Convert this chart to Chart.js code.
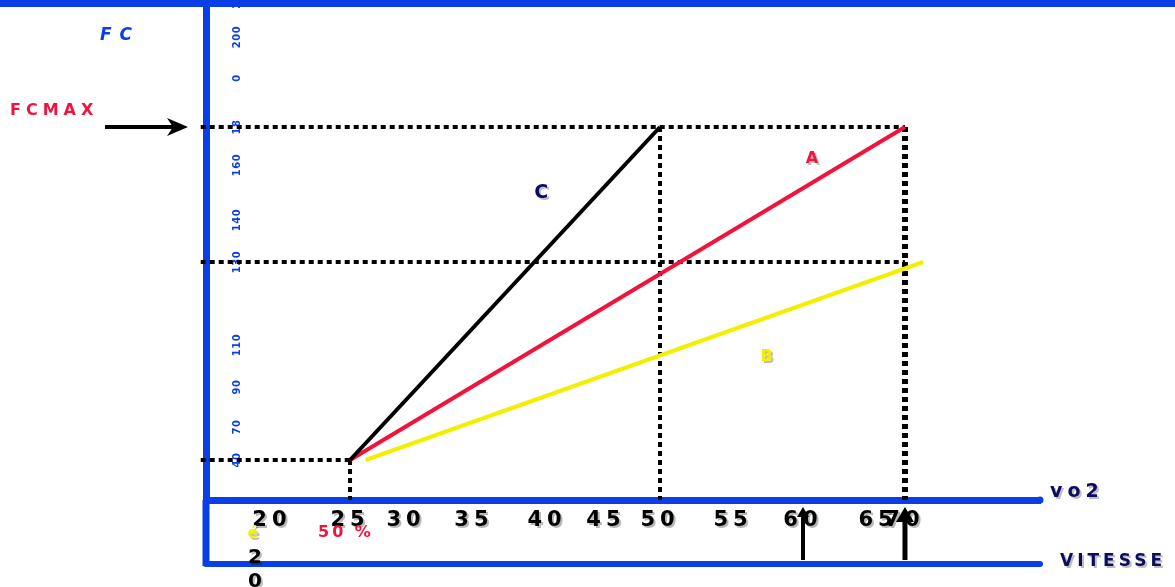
<!DOCTYPE html>
<html><head><meta charset="utf-8">
<script src="https://cdn.jsdelivr.net/npm/chart.js@4/dist/chart.umd.min.js"></script>
<style>html,body{margin:0;padding:0;background:#fff;overflow:hidden}canvas{display:block}</style>
</head><body>
<canvas id="c" width="1175" height="587"></canvas>
<script>
// ---------- data ----------
const xTickValues = [20, 25, 30, 35, 40, 45, 50, 55, 60, 65, 70];
const xTickLabels = ['20', '25', '30', '35', '40', '45', '50', '55', '60', '65', '70'];
const yTickValues = [0, 40, 70, 90, 110, 130, 140, 160, 180, 190, 200, 220];
const yTickLabels = ['0', '40', '70', '90', '110', '130', '140', '160', '18', '0', '200', '2'];

const seriesA_vo2 = [25, 70];   const seriesA_fc = [40, 180];
const seriesB_vo2 = [26.4, 72.7]; const seriesB_fc = [40, 130];
const seriesC_vo2 = [25, 50];   const seriesC_fc = [40, 180];

const fcMax = 180, fcMid = 130, fcStart = 40, fcZero = 0;
const vo2AxisStart = 14.6, vo2Start = 25, vo2C = 50, vo2A = 70;
const arrowVo2 = [60, 70];
const seriesNames = ['A', 'B', 'C'];
const labelPosVo2 = [60.6, 57.4, 39.6];
const labelPosFc = [164, 105, 150.5];

// ---------- styles ----------
const BLUE = '#0a3ee6', NAVY = '#0c0c60', RED = '#f0143c', YELLOW = '#f2f000';

// piecewise mapping of the hand-drawn axes (value -> fraction of axis length)
const scaleAnchors = {
  x: [[15, 0], [20, .0791], [25, .1727], [30, .2398], [35, .3213], [40, .4089], [45, .4796],
      [50, .5444], [55, .6319], [60, .7158], [65, .8058], [70, .8381], [90, 1]],
  y: [[0, 0], [40, .08], [70, .146], [90, .226], [110, .31], [130, .476], [140, .56],
      [160, .67], [180, .746], [190, .844], [200, .926], [220, .99]]
};
const labelStyles = {
  x: {spacing: '5px', shadow: 'rgba(0,0,0,0.28)'},
  y: {spacing: '0.5px'}
};

class PiecewiseScale extends Chart.LinearScale {
  static id = 'piecewise';
  _seg(list, key, v) {
    let i = 1;
    while (i < list.length - 1 && v > list[i][key]) i++;
    return [list[i - 1], list[i]];
  }
  getPixelForValue(value) {
    if (value === null || value === undefined || isNaN(value)) return NaN;
    const [a, b] = this._seg(scaleAnchors[this.id], 0, value);
    const f = a[1] + (value - a[0]) * (b[1] - a[1]) / (b[0] - a[0]);
    return this.getPixelForDecimal(f);
  }
  getValueForPixel(pixel) {
    const f = this.getDecimalForPixel(pixel);
    const [a, b] = this._seg(scaleAnchors[this.id], 1, f);
    return a[0] + (f - a[1]) * (b[0] - a[0]) / (b[1] - a[1]);
  }
  drawLabels(area) {
    const ctx = this.ctx, st = labelStyles[this.id] || {};
    ctx.save();
    if (st.spacing) ctx.letterSpacing = st.spacing;
    if (st.shadow) { ctx.shadowColor = st.shadow; ctx.shadowOffsetX = 2; ctx.shadowOffsetY = 2; ctx.shadowBlur = 0; }
    super.drawLabels(area);
    ctx.restore();
  }
}
Chart.register(PiecewiseScale);

const pts = (xs, ys) => xs.map((x, i) => ({x, y: ys[i]}));
const solid = (xs, ys, color) => ({data: pts(xs, ys), showLine: true, borderColor: color, borderWidth: 4,
  pointRadius: 0, fill: false, clip: false, tension: 0, borderCapStyle: 'butt'});
const dotted = (xs, ys, w) => ({data: pts(xs, ys), showLine: true, borderColor: '#000', borderWidth: w || 4,
  borderDash: [5, 4], pointRadius: 0, fill: false, clip: false, tension: 0});

function txt(ctx, s, x, y, font, color, spacing, align, shadow) {
  ctx.save();
  ctx.font = font; ctx.fillStyle = color; ctx.textAlign = align || 'left'; ctx.textBaseline = 'alphabetic';
  ctx.letterSpacing = (spacing || 0) + 'px';
  if (shadow) { ctx.shadowColor = shadow; ctx.shadowOffsetX = 2; ctx.shadowOffsetY = 2; }
  ctx.fillText(s, x, y);
  ctx.restore();
}

const extras = {
  id: 'extras',
  afterDraw(chart) {
    const {ctx, chartArea: a, scales: {x, y}} = chart;
    ctx.save();
    // top bar
    ctx.fillStyle = BLUE; ctx.fillRect(0, 0, chart.width, 7);
    // y axis extension + second (VITESSE) axis
    ctx.strokeStyle = BLUE; ctx.lineWidth = 7;
    ctx.beginPath(); ctx.moveTo(a.left, a.bottom); ctx.lineTo(a.left, a.bottom + 66); ctx.stroke();
    ctx.lineWidth = 6; ctx.lineCap = 'round';
    ctx.beginPath(); ctx.moveTo(a.left, a.bottom + 64); ctx.lineTo(a.right, a.bottom + 64); ctx.stroke();
    ctx.beginPath(); ctx.arc(a.right, a.bottom, 3.5, 0, Math.PI * 2); ctx.fillStyle = BLUE; ctx.fill();

    // FCMAX arrow
    const ym = y.getPixelForValue(fcMax);
    ctx.strokeStyle = '#000'; ctx.fillStyle = '#000'; ctx.lineCap = 'butt'; ctx.lineWidth = 4;
    ctx.beginPath(); ctx.moveTo(105, ym); ctx.lineTo(176, ym); ctx.stroke();
    ctx.beginPath(); ctx.moveTo(188, ym); ctx.lineTo(167, ym - 9); ctx.lineTo(173, ym); ctx.lineTo(167, ym + 9); ctx.closePath(); ctx.fill();

    // up arrows on VITESSE axis
    arrowVo2.forEach((v, i) => {
      const px = x.getPixelForValue(v);
      const hw = i === 0 ? 6 : 9, hh = i === 0 ? 10 : 15;
      ctx.lineWidth = i === 0 ? 4 : 5;
      ctx.beginPath(); ctx.moveTo(px, a.bottom + 60); ctx.lineTo(px, a.bottom + 14); ctx.stroke();
      ctx.beginPath(); ctx.moveTo(px, a.bottom + 7); ctx.lineTo(px - hw, a.bottom + 7 + hh); ctx.lineTo(px + hw, a.bottom + 7 + hh); ctx.closePath(); ctx.fill();
    });
    ctx.restore();

    const sh = 'rgba(0,0,0,0.25)';
    // series labels (anchored in data units)
    const cols = [RED, YELLOW, NAVY], sizes = [16, 16, 19];
    seriesNames.forEach((n, i) => {
      const px = x.getPixelForValue(labelPosVo2[i]), py = y.getPixelForValue(labelPosFc[i]);
      txt(ctx, n, px, py + sizes[i] * 0.365, `bold ${sizes[i]}px "DejaVu Sans"`, cols[i], 0, 'center', sh);
    });
    // axis titles and notes
    txt(ctx, 'FC', 100, 40, 'italic bold 17px "DejaVu Sans"', BLUE, 8, 'left');
    txt(ctx, 'FCMAX', 10, 115, 'bold 16px "DejaVu Sans"', RED, 5, 'left');
    txt(ctx, 'vo2', 1050, 497, 'bold 19px "DejaVu Sans"', NAVY, 5, 'left', sh);
    txt(ctx, 'VITESSE', 1060, 566, 'bold 17px "DejaVu Sans"', NAVY, 4, 'left', sh);
    txt(ctx, 'é', 253, 538, 'bold 16px "DejaVu Sans"', YELLOW, 0, 'center', sh);
    txt(ctx, '2', 255, 563, 'bold 20px "DejaVu Sans"', '#000', 0, 'center', sh);
    txt(ctx, '0', 255, 587, 'bold 20px "DejaVu Sans"', '#000', 0, 'center', sh);
    txt(ctx, '50 %', 318, 537, 'bold 16px "DejaVu Sans"', RED, 3, 'left');
  }
};

new Chart(document.getElementById('c'), {
  type: 'scatter',
  data: {
    datasets: [
      solid(seriesC_vo2, seriesC_fc, '#000'),
      solid(seriesA_vo2, seriesA_fc, RED),
      solid(seriesB_vo2, seriesB_fc, YELLOW),
      dotted([vo2AxisStart, vo2A], [fcMax, fcMax]),
      dotted([vo2AxisStart, vo2A], [fcMid, fcMid]),
      dotted([vo2AxisStart, vo2Start], [fcStart, fcStart]),
      dotted([vo2Start, vo2Start], [fcStart, fcZero]),
      dotted([vo2C, vo2C], [fcMax, fcZero]),
      dotted([vo2A, vo2A], [fcMax, fcZero], 6)
    ]
  },
  options: {
    responsive: false, animation: false, devicePixelRatio: 1,
    layout: {padding: {left: 0, right: 135, top: 0, bottom: 0}},
    plugins: {legend: {display: false}, tooltip: {enabled: false}, title: {display: false}},
    scales: {
      x: {
        type: 'piecewise', position: 'bottom', min: 15, max: 90,
        grid: {display: false}, border: {display: true, color: BLUE, width: 7},
        ticks: {autoSkip: false, minRotation: 0, maxRotation: 0, padding: 0, color: '#000',
          font: {family: 'DejaVu Sans', weight: 'bold', size: 21}, callback: (v, i) => xTickLabels[i]},
        afterBuildTicks: s => { s.ticks = xTickValues.map(v => ({value: v})); },
        afterFit: s => { s.height = 87; s.paddingLeft = 0; s.paddingRight = 0; }
      },
      y: {
        type: 'piecewise', position: 'left', min: 0, max: 220,
        grid: {display: false}, border: {display: true, color: BLUE, width: 7},
        ticks: {mirror: true, crossAlign: 'center', minRotation: 90, maxRotation: 90, padding: 21,
          autoSkip: false, color: BLUE, font: {family: 'DejaVu Sans', weight: 'bold', size: 10},
          callback: (v, i) => yTickLabels[i]},
        afterBuildTicks: s => { s.ticks = yTickValues.map(v => ({value: v})); },
        afterFit: s => { s.width = 206; s.paddingTop = 0; s.paddingBottom = 0; }
      }
    }
  },
  plugins: [extras]
});
</script>
</body></html>
